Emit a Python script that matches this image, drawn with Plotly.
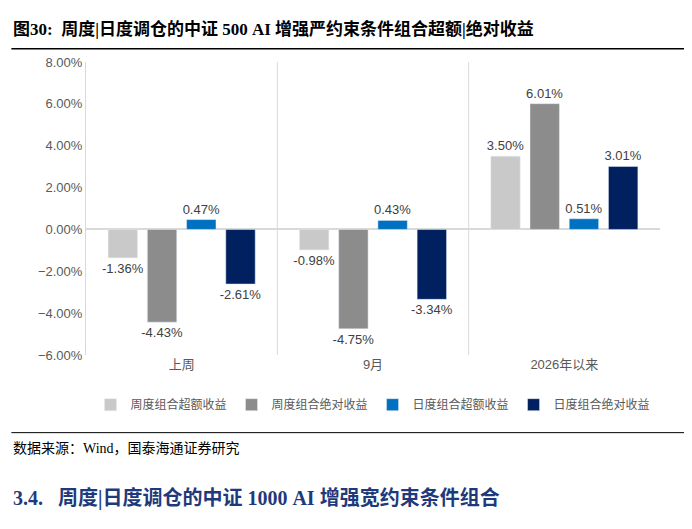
import plotly.graph_objects as go

categories = ["上周", "9月", "2026年以来"]
series_names = ["周度组合超额收益", "周度组合绝对收益", "日度组合超额收益", "日度组合绝对收益"]
weekly_excess = [-1.36, -0.98, 3.50]
weekly_abs = [-4.43, -4.75, 6.01]
daily_excess = [0.47, 0.43, 0.51]
daily_abs = [-2.61, -3.34, 3.01]
colors = ["#c9c9c9", "#8c8c8c", "#0070c0", "#002060"]

fig = go.Figure()
for name, vals, c in zip(series_names, [weekly_excess, weekly_abs, daily_excess, daily_abs], colors):
    fig.add_bar(x=categories, y=vals, name=name, marker_color=c,
                text=[f"{v:.2f}%" for v in vals], textposition="outside",
                constraintext="none",
                textfont=dict(size=13, color="#404040"), cliponaxis=False)

fig.update_layout(
    width=692, height=529, paper_bgcolor="white", plot_bgcolor="white",
    margin=dict(l=78, r=40, t=54, b=182),
    barmode="group", bargap=0.18, bargroupgap=0.25,
    font=dict(family="Liberation Sans, Noto Sans CJK SC", size=13, color="#595959"),
    yaxis=dict(range=[-6, 8], dtick=2, ticksuffix="%", tickformat=".2f",
               showgrid=False, zeroline=True, zerolinecolor="#d9d9d9",
               showline=True, linecolor="#d9d9d9", ticks=""),
    xaxis=dict(showline=False, ticks=""),
    legend=dict(orientation="h", x=0.5, xanchor="center", y=-0.12, yanchor="top",
                font=dict(size=12, color="#595959")),
    showlegend=True,
)
for xv in [0.5, 1.5]:
    fig.add_shape(type="line", xref="x", yref="paper", x0=xv, x1=xv, y0=0, y1=1,
                  line=dict(color="#d9d9d9", width=1))
fig.add_annotation(xref="paper", yref="paper", x=-0.13, y=1.07, xanchor="left", yanchor="bottom",
                   text="<b>图30:  周度|日度调仓的中证 500 AI 增强严约束条件组合超额|绝对收益</b>",
                   showarrow=False, font=dict(family="Liberation Serif, Noto Sans CJK SC", size=17, color="black"))
fig.add_shape(type="line", xref="paper", yref="paper", x0=-0.13, x1=1.07, y0=1.045, y1=1.045,
              line=dict(color="black", width=1.5))
fig.add_shape(type="line", xref="paper", yref="paper", x0=-0.13, x1=1.07, y0=-0.265, y1=-0.265,
              line=dict(color="black", width=1))
fig.add_annotation(xref="paper", yref="paper", x=-0.13, y=-0.285, xanchor="left", yanchor="top",
                   text="数据来源：Wind，国泰海通证券研究", showarrow=False,
                   font=dict(family="Liberation Serif, Noto Sans CJK SC", size=14, color="black"))
fig.add_annotation(xref="paper", yref="paper", x=-0.13, y=-0.44, xanchor="left", yanchor="top",
                   text="<b>3.4.   周度|日度调仓的中证 1000 AI 增强宽约束条件组合</b>", showarrow=False,
                   font=dict(family="Liberation Serif, Noto Sans CJK SC", size=20, color="#1f3a7a"))

fig.write_html("out.html")
